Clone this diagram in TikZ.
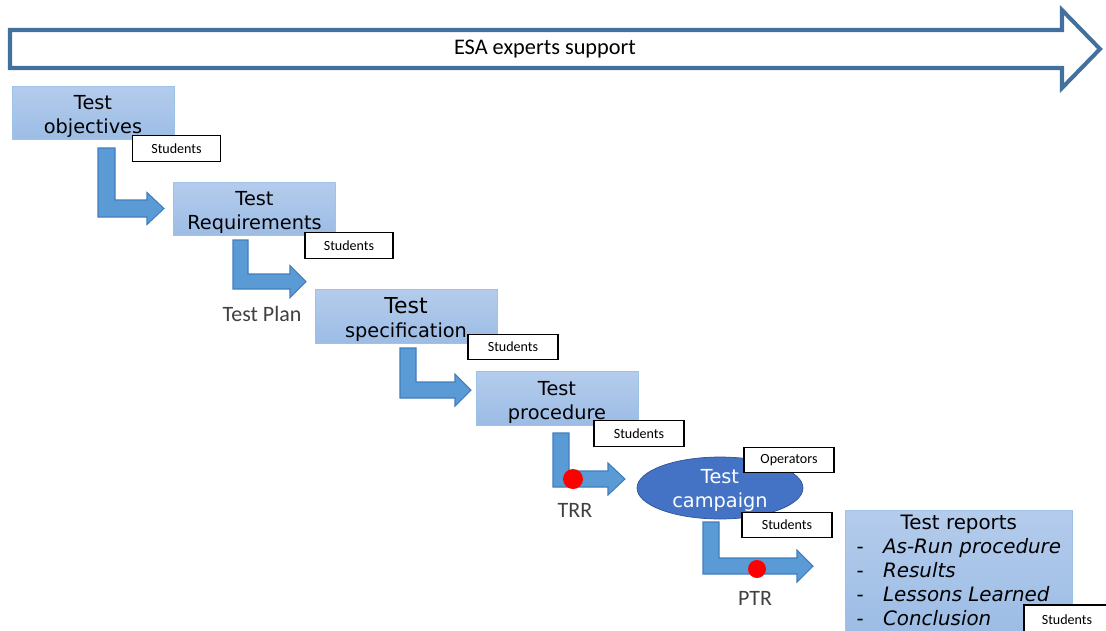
\documentclass[tikz,border=0pt]{standalone}
\usepackage{fontspec}
\setmainfont{Carlito}
\newfontfamily\verd{DejaVu Sans}
\usepackage{tikz}
\usetikzlibrary{shapes.geometric}
\definecolor{boxtop}{RGB}{180,204,236}
\definecolor{boxbot}{RGB}{156,188,229}
\definecolor{boxline}{RGB}{157,195,230}
\definecolor{flowblue}{RGB}{91,155,213}
\definecolor{flowline}{RGB}{65,125,190}
\definecolor{campblue}{RGB}{68,114,196}
\definecolor{campline}{RGB}{47,85,151}
\definecolor{esablue}{RGB}{65,113,156}
\definecolor{labelgrey}{RGB}{64,64,64}

\begin{document}
\begin{tikzpicture}[
    x = 0.02cm, y = -0.02cm,
    stage/.style = {draw=boxline, top color=boxtop, bottom color=boxbot,
        minimum width=3.24cm, minimum height=1.07cm, inner sep=0pt,
        text height=24pt, text depth=0.6pt,
        align=center, font=\verd\fontsize{11}{13.6}\selectfont},
    tag/.style = {draw, thick, fill=white, minimum width=1.76cm,
        minimum height=0.51cm, inner sep=0pt, font=\fontsize{8}{9}\selectfont},
    milestone/.style = {text=labelgrey, font=\fontsize{12.5}{14}\selectfont},
    flow/.style = {draw=flowline, fill=flowblue, line width=0.6pt},
    gate/.style = {circle, fill=red, inner sep=0pt, minimum size=0.4cm}
  ]
  \useasboundingbox (0,0) rectangle (1106,630);

  \draw [line width=2.3pt, draw=esablue, fill=white]
    (10,30) -- (1062,30) -- (1062,10) -- (1100,49) -- (1062,88) -- (1062,68) -- (10,68) -- cycle;
  \node[font=\fontsize{12.7}{15}\selectfont] (esa) at (545,49) {ESA experts support};

  \foreach \l/\w/\t/\b/\hx/\tx in {98/17/148/217/147/164, 233/15/240/289/290/306,
      400/16/348/398/455/471, 553/16/433/487/608/625, 703/16/522/574/797/813}
  \filldraw[flow] (\l,\t) -- ({\l+\w},\t) -- ({\l+\w},{\b-\w}) -- (\hx,{\b-\w})
    -- (\hx,{\b-\w/2-16}) -- (\tx,{\b-\w/2}) -- (\hx,{\b-\w/2+16}) -- (\hx,\b) -- (\l,\b) -- cycle;

  \node[stage] (objectives) at (93,113) {Test\\objectives};
  \node[stage] (requirements) at (254.5,209) {Test\\Requirements};
  \node[stage, minimum width=3.64cm] (specification) at (406,316.5)
    {{\fontsize{12.5}{14}\selectfont Test}\\specification};
  \node[stage] (procedure) at (557,398.5) {Test\\procedure};
  \node[stage, anchor=north west, minimum width=4.54cm, minimum height=2.5cm,
    text height=, text depth=,
    font=\verd\fontsize{11.3}{13.6}\selectfont] (reports) at (845,510)
    {\begin{tabular}{@{}l@{\hspace{11pt}}l@{}}
      \multicolumn{2}{c}{Test reports}\\
      - & \itshape As-Run procedure\\
      - & \itshape Results\\
      - & \itshape Lessons Learned\\
      - & \itshape Conclusion
    \end{tabular}};

  \node[ellipse, draw=campline, fill=campblue, minimum width=3.32cm, minimum height=1.24cm,
    inner sep=0pt, text height=22.4pt, text depth=0.6pt, text=white, align=center,
    font=\verd\fontsize{11}{13.6}\selectfont]
    (campaign) at (720,488) {Test\\campaign};

  \node[tag] (tagobj) at (176.5,148.5) {Students};
  \node[tag] (tagreq) at (349,245.5) {Students};
  \node[tag, minimum width=1.8cm] (tagspec) at (513,347) {Students};
  \node[tag, minimum width=1.8cm] (tagproc) at (639,433.5) {Students};
  \node[tag, minimum width=1.8cm] (tagops) at (789,460) {Operators};
  \node[tag, minimum width=1.8cm] (tagcamp) at (787,525) {Students};
  \node[tag, minimum width=1.72cm, minimum height=0.6cm] (tagrep) at (1067,620) {Students};

  \node[milestone] (plan) at (262,314) {Test Plan};
  \node[gate] (trr) at (573,479) {};
  \node[milestone] (trrlbl) at (575,510) {TRR};
  \node[gate, minimum size=0.36cm] (ptr) at (757,569) {};
  \node[milestone] (ptrlbl) at (755,598) {PTR};
\end{tikzpicture}
\end{document}
